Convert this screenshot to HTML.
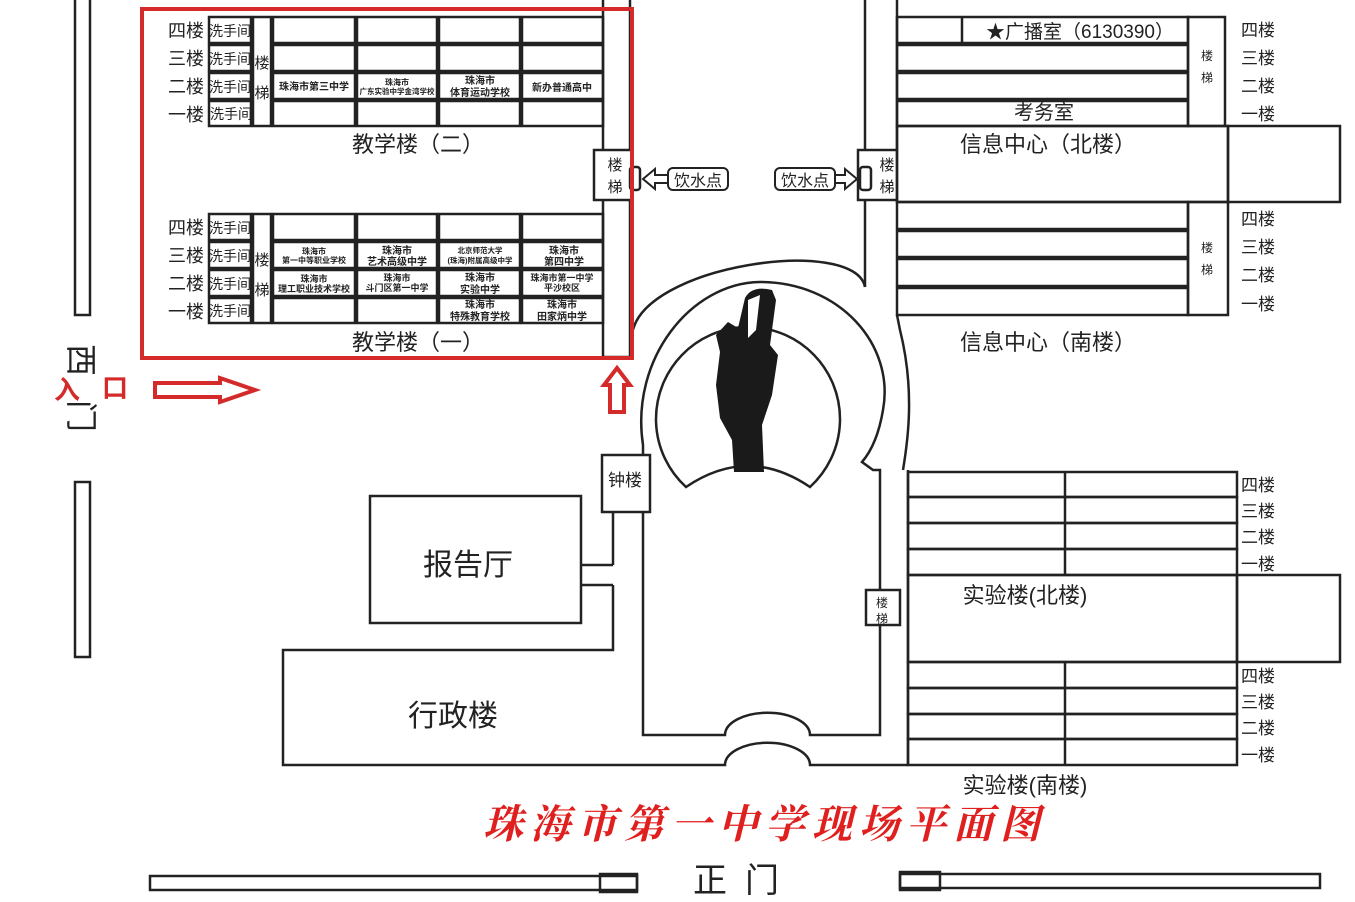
<!DOCTYPE html>
<html><head><meta charset="utf-8">
<style>
html,body{margin:0;padding:0;background:#fff;}
svg{display:block;}
text{font-family:"Liberation Sans","Noto Sans CJK SC",sans-serif;fill:#222;}
</style></head>
<body>
<svg width="1355" height="902" viewBox="0 0 1355 902" xmlns="http://www.w3.org/2000/svg">
<rect width="1355" height="902" fill="#fff"/>
<g fill="none" stroke="#222" stroke-width="2.5">
<rect x="75" y="-5" width="15" height="320"/>
<rect x="75" y="482" width="15" height="175"/>

<g>
<rect x="209" y="17" width="42" height="26"/><rect x="209" y="45" width="42" height="26"/><rect x="209" y="73" width="42" height="26"/><rect x="209" y="101" width="42" height="25"/>
<rect x="253" y="17" width="18" height="109"/>
<rect x="273" y="17" width="82" height="26"/><rect x="357" y="17" width="80" height="26"/><rect x="439" y="17" width="81" height="26"/><rect x="522" y="17" width="81" height="26"/>
<rect x="273" y="45" width="82" height="26"/><rect x="357" y="45" width="80" height="26"/><rect x="439" y="45" width="81" height="26"/><rect x="522" y="45" width="81" height="26"/>
<rect x="273" y="73" width="82" height="26"/><rect x="357" y="73" width="80" height="26"/><rect x="439" y="73" width="81" height="26"/><rect x="522" y="73" width="81" height="26"/>
<rect x="273" y="101" width="82" height="25"/><rect x="357" y="101" width="80" height="25"/><rect x="439" y="101" width="81" height="25"/><rect x="522" y="101" width="81" height="25"/>
</g>
<g>
<rect x="209" y="214" width="42" height="26"/><rect x="209" y="242" width="42" height="26"/><rect x="209" y="270" width="42" height="26"/><rect x="209" y="298" width="42" height="25"/>
<rect x="253" y="214" width="18" height="109"/>
<rect x="273" y="214" width="82" height="26"/><rect x="357" y="214" width="80" height="26"/><rect x="439" y="214" width="81" height="26"/><rect x="522" y="214" width="81" height="26"/>
<rect x="273" y="242" width="82" height="26"/><rect x="357" y="242" width="80" height="26"/><rect x="439" y="242" width="81" height="26"/><rect x="522" y="242" width="81" height="26"/>
<rect x="273" y="270" width="82" height="26"/><rect x="357" y="270" width="80" height="26"/><rect x="439" y="270" width="81" height="26"/><rect x="522" y="270" width="81" height="26"/>
<rect x="273" y="298" width="82" height="25"/><rect x="357" y="298" width="80" height="25"/><rect x="439" y="298" width="81" height="25"/><rect x="522" y="298" width="81" height="25"/>
</g>
<rect x="603" y="-5" width="27" height="362"/>
<rect x="594" y="150" width="38" height="50" fill="#fff"/>
<rect x="630" y="167" width="10" height="23" rx="3" fill="#fff"/>

<line x1="865" y1="-5" x2="865" y2="287"/>
<line x1="897" y1="-5" x2="897" y2="150"/>
<rect x="858" y="150" width="39" height="50" fill="#fff"/>
<rect x="860" y="167" width="11" height="23" rx="3" fill="#fff"/>

<rect x="897" y="17" width="291" height="26"/><line x1="962" y1="17" x2="962" y2="43"/>
<rect x="897" y="45" width="291" height="26"/>
<rect x="897" y="73" width="291" height="26"/>
<rect x="897" y="101" width="291" height="25"/>
<rect x="1188" y="17" width="37" height="109"/>
<rect x="897" y="126" width="331" height="76"/>
<rect x="1228" y="126" width="112" height="76"/>
<rect x="897" y="202" width="291" height="27"/>
<rect x="897" y="231" width="291" height="26"/>
<rect x="897" y="259" width="291" height="27"/>
<rect x="897" y="288" width="291" height="27"/>
<rect x="1188" y="202" width="40" height="113"/>

<path d="M632 335 C 640 265, 855 235, 865 287"/>
<path d="M643 735 L643 445 C 630 360, 690 283, 760 282 C 840 282, 895 345, 883 410 C 878 440, 868 455, 862 462 L873 470 L880 470 L880 735 L810 735 A42 22 0 0 0 725 735 Z"/>
<path d="M897 315 L900 330 C 915 390, 908 440, 903 470"/>
<path d="M686 487 A92 92 0 1 1 810 487 Q 748 445 686 487 Z"/>

<rect x="602" y="455" width="48" height="57" fill="#fff"/>
<path d="M613 512 L613 565 M613 585 L613 650 L283 650 L283 765 L725 765 A42 22 0 0 1 810 765 L908 765"/>
<path d="M581 565 L613 565 M581 585 L613 585"/>
<rect x="370" y="496" width="211" height="127"/>

<line x1="908" y1="470" x2="908" y2="765"/>
<rect x="908" y="472" width="329" height="25"/><rect x="908" y="497" width="329" height="26"/><rect x="908" y="523" width="329" height="26"/><rect x="908" y="549" width="329" height="26"/>
<line x1="1065" y1="472" x2="1065" y2="575"/>
<rect x="908" y="575" width="329" height="87"/>
<rect x="1237" y="575" width="103" height="87"/>
<rect x="908" y="662" width="329" height="26"/><rect x="908" y="688" width="329" height="26"/><rect x="908" y="714" width="329" height="25"/><rect x="908" y="739" width="329" height="26"/>
<line x1="1065" y1="662" x2="1065" y2="765"/>
<rect x="866" y="590" width="34" height="35" fill="#fff"/>

<rect x="150" y="876" width="487" height="14"/><rect x="600" y="874" width="37" height="18"/>
<rect x="900" y="874" width="420" height="14"/><rect x="900" y="872" width="40" height="18"/>
</g>

<path fill="#1a1a1a" d="M745 298 Q752 285 772 290 L776 300 L770 345 L778 355 L772 395 L762 425 L764 472 L734 472 L732 440 L720 418 L716 385 L720 352 L716 335 L728 322 L738 328 Z"/>
<path fill="#fff" d="M748 300 L760 295 L756 330 L748 338 Z"/>

<g fill="#fff" stroke="#222" stroke-width="2">
<path d="M643 179 L655 169 L655 175 L670 175 L670 183 L655 183 L655 189 Z"/>
<rect x="668" y="168" width="60" height="22" rx="5"/>
<path d="M857 179 L845 169 L845 175 L834 175 L834 183 L845 183 L845 189 Z"/>
<rect x="775" y="168" width="60" height="22" rx="5"/>
</g>
<g font-size="16" text-anchor="middle">
<text x="698" y="186">饮水点</text>
<text x="805" y="186">饮水点</text>
</g>

<g font-size="18" text-anchor="middle">
<text x="186" y="37">四楼</text><text x="186" y="65">三楼</text><text x="186" y="93">二楼</text><text x="186" y="121">一楼</text>
<text x="186" y="234">四楼</text><text x="186" y="262">三楼</text><text x="186" y="290">二楼</text><text x="186" y="318">一楼</text>
</g>
<g font-size="14" text-anchor="middle">
<text x="230" y="36">洗手间</text><text x="230" y="64">洗手间</text><text x="230" y="92">洗手间</text><text x="231" y="119">洗手间</text>
<text x="230" y="233">洗手间</text><text x="230" y="261">洗手间</text><text x="230" y="289">洗手间</text><text x="230" y="316">洗手间</text>
</g>
<g font-size="15" text-anchor="middle">
<text x="262" y="68">楼</text><text x="262" y="98">梯</text>
<text x="262" y="265">楼</text><text x="262" y="295">梯</text>
<text x="615" y="170">楼</text><text x="615" y="192">梯</text>
<text x="887" y="170">楼</text><text x="887" y="192">梯</text>
</g>
<g font-size="12" text-anchor="middle">
<text x="882" y="607">楼</text><text x="882" y="623">梯</text>
<text x="1207" y="60">楼</text><text x="1207" y="82">梯</text>
<text x="1207" y="252">楼</text><text x="1207" y="274">梯</text>
</g>
<g font-size="10" text-anchor="middle" font-weight="bold">
<text x="314" y="90">珠海市第三中学</text>
<text x="397" y="85" font-size="8">珠海市</text><text x="397" y="94" font-size="7.5">广东实验中学金湾学校</text>
<text x="480" y="84">珠海市</text><text x="480" y="96">体育运动学校</text>
<text x="562" y="91">新办普通高中</text>
<text x="314" y="254" font-size="8">珠海市</text><text x="314" y="263" font-size="8">第一中等职业学校</text>
<text x="397" y="254">珠海市</text><text x="397" y="265">艺术高级中学</text>
<text x="480" y="253" font-size="7.5">北京师范大学</text><text x="480" y="263" font-size="7.5">(珠海)附属高级中学</text>
<text x="564" y="254">珠海市</text><text x="564" y="265">第四中学</text>
<text x="314" y="282" font-size="9">珠海市</text><text x="314" y="292" font-size="9">理工职业技术学校</text>
<text x="397" y="281" font-size="9">珠海市</text><text x="397" y="291" font-size="9">斗门区第一中学</text>
<text x="480" y="281">珠海市</text><text x="480" y="293">实验中学</text>
<text x="562" y="281" font-size="9">珠海市第一中学</text><text x="562" y="291" font-size="9">平沙校区</text>
<text x="480" y="308">珠海市</text><text x="480" y="320">特殊教育学校</text>
<text x="562" y="308">珠海市</text><text x="562" y="320">田家炳中学</text>
</g>
<g font-size="22" text-anchor="middle">
<text x="418" y="152">教学楼（二）</text>
<text x="418" y="350">教学楼（一）</text>
<text x="1048" y="152">信息中心（北楼）</text>
<text x="1048" y="350">信息中心（南楼）</text>
<text x="1025" y="603">实验楼(北楼)</text>
<text x="1025" y="793">实验楼(南楼)</text>
<text x="1044" y="119" font-size="20">考务室</text>
<text x="1080" y="38" font-size="19">★广播室（6130390）</text>
<text x="625" y="486" font-size="17">钟楼</text>
</g>
<g font-size="30" text-anchor="middle">
<text x="468" y="575">报告厅</text>
<text x="453" y="726">行政楼</text>
</g>
<text x="745" y="892" font-size="34" text-anchor="middle" letter-spacing="18">正门</text>
<g font-size="17" text-anchor="middle">
<text x="1258" y="36">四楼</text><text x="1258" y="64">三楼</text><text x="1258" y="92">二楼</text><text x="1258" y="120">一楼</text>
<text x="1258" y="225">四楼</text><text x="1258" y="253">三楼</text><text x="1258" y="281">二楼</text><text x="1258" y="310">一楼</text>
<text x="1258" y="491">四楼</text><text x="1258" y="517">三楼</text><text x="1258" y="543">二楼</text><text x="1258" y="570">一楼</text>
<text x="1258" y="682">四楼</text><text x="1258" y="708">三楼</text><text x="1258" y="734">二楼</text><text x="1258" y="761">一楼</text>
</g>
<!-- west gate -->
<text x="0" y="0" font-size="32" text-anchor="middle" transform="translate(70 360) rotate(90)">西</text>
<text x="0" y="0" font-size="32" text-anchor="middle" transform="translate(70 416) rotate(90)">门</text>

<rect x="142" y="9" width="490" height="349" fill="none" stroke="#d42a2a" stroke-width="4"/>
<path d="M155 383 L220 383 L220 378 L255 390 L220 402 L220 397 L155 397 Z" fill="none" stroke="#d42a2a" stroke-width="4"/>
<path d="M617 368 L630 385 L624 385 L624 412 L610 412 L610 385 L604 385 Z" fill="none" stroke="#d42a2a" stroke-width="4"/>
<text x="67" y="399" font-size="26" style="fill:#d42a2a" text-anchor="middle" font-weight="bold">入</text>
<text x="115" y="397" font-size="26" style="fill:#d42a2a" text-anchor="middle" font-weight="bold">口</text>
<text x="765" y="838" font-size="40" text-anchor="middle" letter-spacing="7" style="fill:#e0201f;font-family:'Noto Serif CJK SC','Liberation Serif',serif;font-weight:bold;font-style:italic">珠海市第一中学现场平面图</text>
</svg>
</body></html>
